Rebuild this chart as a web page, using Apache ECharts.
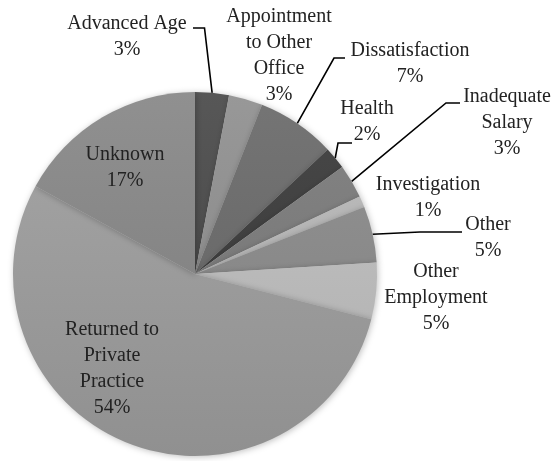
<!DOCTYPE html>
<html>
<head>
<meta charset="utf-8">
<script src="https://cdn.jsdelivr.net/npm/echarts@6/dist/echarts.min.js"></script>
<style>
html,body{margin:0;padding:0;background:#fff;}
#chart{width:554px;height:461px;}
</style>
</head>
<body>
<div id="chart"></div>
<script>
// ---- data ----
const categories = ['Advanced Age','Appointment to Other Office','Dissatisfaction','Health','Inadequate Salary','Investigation','Other','Other Employment','Returned to Private Practice','Unknown'];
const shares = [3,3,7,2,3,1,5,5,54,17];
const labelText = ['Advanced Age','Appointment\nto Other\nOffice','Dissatisfaction','Health','Inadequate\nSalary','Investigation','Other','Other\nEmployment','Returned to\nPrivate\nPractice','Unknown'];

// ---- styling ----
const baseGray = [77,142,107,63,123,180,138,186,156,134];
const labelAnchor = [[127,37],[279,56],[410,64],[367,122],[507,123],[428,198],[488,238],[436,298],[112,369],[125,168]];
const leaderPts = {
  0: [[204.5,28],[193,28]],
  2: [[334,58],[345,58]],
  3: [[338,143],[352,143]],
  4: [[446,103],[460,103]],
  6: [[420,232],[462,232]]
};

function g(v){v=Math.max(0,Math.min(255,Math.round(v)));return 'rgb('+v+','+v+','+v+')';}

const data = categories.map((c,i)=>({
  name:c,
  value:shares[i],
  itemStyle:{color:{type:'linear',x:0,y:92,x2:0,y2:457,global:true,
    colorStops:[{offset:0,color:g(baseGray[i]+10)},{offset:1,color:g(baseGray[i]-12)}]}},
  labelLine:{show: leaderPts[i]!==undefined}
}));

const chart = echarts.init(document.getElementById('chart'));
chart.setOption({
  backgroundColor:'#fff',
  animation:false,
  series:[{
    type:'pie',
    center:[195,274],
    radius:[0,182],
    startAngle:90,
    clockwise:true,
    avoidLabelOverlap:false,
    data:data,
    itemStyle:{borderWidth:0,shadowBlur:6,shadowColor:'rgba(0,0,0,0.25)',shadowOffsetX:1,shadowOffsetY:1},
    label:{
      show:true,
      position:'outside',
      fontFamily:'"Liberation Serif", "DejaVu Serif", serif',
      fontSize:20,
      lineHeight:26,
      color:'#222',
      align:'center',
      formatter:(p)=>labelText[p.dataIndex]+'\n'+shares[p.dataIndex]+'%'
    },
    labelLine:{lineStyle:{color:'#000',width:1.6},length:10,length2:10},
    labelLayout:function(params){
      const i=params.dataIndex;
      const a=labelAnchor[i];
      const res={x:a[0],y:a[1],align:'center',verticalAlign:'middle'};
      if(leaderPts[i] && params.labelLinePoints){
        const e=params.labelLinePoints[0];
        res.labelLinePoints=[[e[0],e[1]],leaderPts[i][0],leaderPts[i][1]];
      }
      return res;
    }
  }]
});
</script>
</body>
</html>
